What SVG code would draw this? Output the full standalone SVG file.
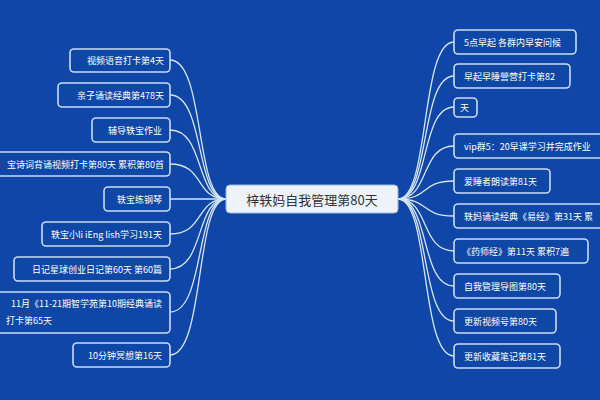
<svg xmlns="http://www.w3.org/2000/svg" width="600" height="400" viewBox="0 0 600 400">
<style>
.n rect{fill:#0f47a6;stroke:#c9dcf5;stroke-width:1.6}
.n text{fill:#fff;font-family:"Noto Sans CJK SC","Liberation Sans",sans-serif;font-size:9px;dominant-baseline:central}
.l text{text-anchor:end}
.l text.s{text-anchor:start}
#conn path{fill:none;stroke:#d6e4f7;stroke-width:1.3}
</style>
<rect width="600" height="400" fill="#1046a8"/>
<g id="conn">
<path d="M226,199 C195,199 205,60 170,60"/>
<path d="M226,199 C195,199 205,95 170,95"/>
<path d="M226,199 C195,199 205,130 170,130"/>
<path d="M226,199 C195,199 205,164 170,164"/>
<path d="M226,199 C200,199 200,199 170,199"/>
<path d="M226,199 C195,199 205,234 170,234"/>
<path d="M226,199 C195,199 205,269 170,269"/>
<path d="M226,199 C195,199 205,312 170,312"/>
<path d="M226,199 C195,199 205,355 170,355"/>
<path d="M398,199 C430,199 420,42 454,42"/>
<path d="M398,199 C430,199 420,76 454,76"/>
<path d="M398,199 C430,199 420,107 454,107"/>
<path d="M398,199 C430,199 420,146 454,146"/>
<path d="M398,199 C430,199 420,181 454,181"/>
<path d="M398,199 C430,199 420,216 454,216"/>
<path d="M398,199 C430,199 420,251 454,251"/>
<path d="M398,199 C430,199 420,286 454,286"/>
<path d="M398,199 C430,199 420,321 454,321"/>
<path d="M398,199 C430,199 420,356 454,356"/>
</g>
<g id="center"><rect x="226" y="185" width="172" height="28" rx="4" fill="#eef3fb" stroke="#9db8e0"/><text x="312" y="199" text-anchor="middle" dominant-baseline="central" font-family="Noto Sans CJK SC,Liberation Sans,sans-serif" font-size="13" fill="#333">梓轶妈自我管理第80天</text></g>
<g class="n l">
<g id="l1"><rect x="70" y="49" width="100" height="23" rx="4"/><text x="164" y="60.5">视频语音打卡第4天</text></g>
<g id="l2"><rect x="58" y="83" width="112" height="24" rx="4"/><text x="164" y="95">亲子诵读经典第478天</text></g>
<g id="l3"><rect x="92" y="118" width="78" height="24" rx="4"/><text x="162" y="130">辅导轶宝作业</text></g>
<g id="l4"><rect x="-6" y="152" width="176" height="24" rx="4"/><text x="164" y="164">宝诗词背诵视频打卡第80天 累积第80首</text></g>
<g id="l5"><rect x="104" y="187" width="66" height="24" rx="4"/><text x="162" y="199">轶宝练钢琴</text></g>
<g id="l6"><rect x="42" y="222" width="128" height="24" rx="4"/><text x="162" y="234">轶宝小li iEng lish学习191天</text></g>
<g id="l7"><rect x="14" y="257" width="156" height="24" rx="4"/><text x="162" y="269">日记星球创业日记第60天 第60篇</text></g>
<g id="l8"><rect x="-6" y="292" width="176" height="41" rx="4"/><text x="162" y="303">11月《11-21期智学苑第10期经典诵读</text><text class="s" x="6" y="320">打卡第65天</text></g>
<g id="l9"><rect x="73" y="343" width="97" height="24" rx="4"/><text x="162" y="355">10分钟冥想第16天</text></g>
</g>
<g class="n">
<g id="r1"><rect x="454" y="30" width="122" height="24" rx="4"/><text x="464" y="42">5点早起 各群内早安问候</text></g>
<g id="r2"><rect x="454" y="64" width="116" height="24" rx="4"/><text x="464" y="76">早起早睡營营打卡第82</text></g>
<g id="r3"><rect x="454" y="98" width="23" height="19" rx="4"/><text x="460" y="107.5">天</text></g>
<g id="r4"><rect x="454" y="134" width="152" height="24" rx="4"/><text x="464" y="146">vip群5：20早课学习并完成作业</text></g>
<g id="r5"><rect x="454" y="169" width="96" height="24" rx="4"/><text x="464" y="181">爱睡者朗读第81天</text></g>
<g id="r6"><rect x="454" y="204" width="152" height="24" rx="4"/><text x="464" y="216">轶妈诵读经典《易经》第31天 累</text></g>
<g id="r7"><rect x="454" y="239" width="134" height="24" rx="4"/><text x="462" y="251">《药师经》第11天 累积7遍</text></g>
<g id="r8"><rect x="454" y="274" width="106" height="24" rx="4"/><text x="464" y="286">自我管理导图第80天</text></g>
<g id="r9"><rect x="454" y="309" width="102" height="24" rx="4"/><text x="464" y="321">更新视频号第80天</text></g>
<g id="r10"><rect x="454" y="344" width="106" height="24" rx="4"/><text x="464" y="356">更新收藏笔记第81天</text></g>
</g>
</svg>
